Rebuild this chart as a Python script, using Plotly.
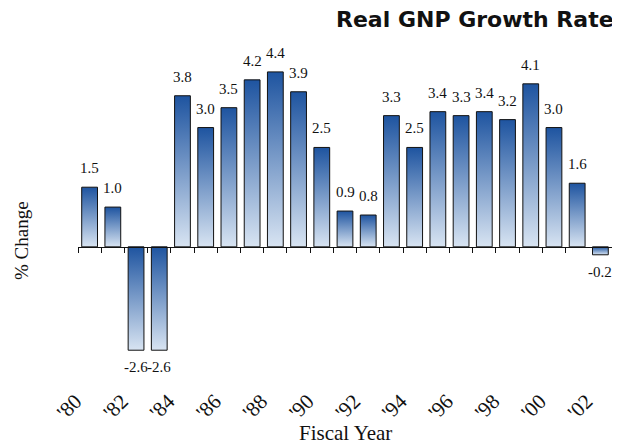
import plotly.graph_objects as go

# ---- data ----
years = list(range(1980, 2003))
growth = [1.5, 1.0, -2.6, -2.6, 3.8, 3.0, 3.5, 4.2, 4.4, 3.9, 2.5, 0.9, 0.8,
          3.3, 2.5, 3.4, 3.3, 3.4, 3.2, 4.1, 3.0, 1.6, -0.2]
tick_years = [1980, 1982, 1984, 1986, 1988, 1990, 1992, 1994, 1996, 1998, 2000, 2002]
tick_labels = ["'80", "'82", "'84", "'86", "'88", "'90", "'92", "'94", "'96", "'98", "'00", "'02"]

title_text = "Real GNP Growth Rate"
x_title = "Fiscal Year"
y_title = "% Change"

# ---- style ----
DARK = "rgb(30,84,160)"
LIGHT = "rgb(216,228,242)"
HALF = 0.34
YMIN, YMAX = -3.45, 4.8
XMIN, XMAX = years[0] - 0.5, years[-1] + 0.5
SERIF = "Liberation Serif, Times New Roman, serif"

fig = go.Figure()

for yr, v in zip(years, growth):
    fig.add_trace(go.Scatter(
        x=[yr - HALF, yr - HALF, yr + HALF, yr + HALF, yr - HALF],
        y=[0, v, v, 0, 0],
        mode="lines",
        fill="toself",
        fillgradient=dict(type="vertical", colorscale=[[0, LIGHT], [1, DARK]]),
        line=dict(color="#111111", width=1),
        hoverinfo="skip",
        showlegend=False,
        xaxis="x", yaxis="y",
    ))

# transparent bars for hover, on the label axis
fig.add_trace(go.Bar(
    x=years, y=growth, width=2 * HALF,
    marker=dict(color="rgba(0,0,0,0)", line=dict(width=0)),
    showlegend=False, xaxis="x2", yaxis="y",
    hovertemplate="%{x}: %{y:.1f}%<extra></extra>",
))

annotations = []
for yr, v in zip(years, growth):
    annotations.append(dict(
        x=yr, y=v, xref="x", yref="y",
        text=f"{v:.1f}", showarrow=False,
        yanchor="middle", xanchor="center",
        yshift=19 if v >= 0 else -17,
        font=dict(family=SERIF, size=15, color="#111111"),
    ))

annotations += [
    dict(text=f"<b>{title_text}</b>", xref="paper", yref="paper",
         x=1.0075, y=1.0, yshift=37, xanchor="right", yanchor="middle",
         showarrow=False,
         font=dict(family="DejaVu Sans, Verdana, sans-serif", size=22, color="#111111")),
    dict(text=x_title, xref="paper", yref="paper", x=0.5, y=0, yshift=-49,
         xanchor="center", yanchor="middle", showarrow=False,
         font=dict(family=SERIF, size=21, color="#111111")),
    dict(text=y_title, xref="paper", yref="paper", x=0, xshift=-56, y=0.436,
         xanchor="center", yanchor="middle", textangle=-90, showarrow=False,
         font=dict(family=SERIF, size=19, color="#111111")),
]

zero_pos = (0 - YMIN) / (YMAX - YMIN)

fig.update_layout(
    width=612, height=439,
    margin=dict(l=70, r=8, t=48, b=63),
    paper_bgcolor="white", plot_bgcolor="white",
    showlegend=False,
    bargap=0.32,
    annotations=annotations,
    xaxis=dict(
        range=[XMIN, XMAX],
        anchor="free", position=zero_pos,
        tickmode="array",
        tickvals=[y - 0.5 for y in years[:-1]],
        ticks="outside", ticklen=5, tickwidth=1, tickcolor="#111111",
        showticklabels=False,
        showline=True, linecolor="#111111", linewidth=1,
        showgrid=False, zeroline=False,
    ),
    xaxis2=dict(
        range=[XMIN, XMAX],
        overlaying="x", anchor="y", side="bottom",
        tickmode="array", tickvals=tick_years, ticktext=tick_labels,
        tickangle=-45, ticks="", ticklabelshift=-14,
        tickfont=dict(family=SERIF, size=21, color="#111111"),
        showline=False, showgrid=False, zeroline=False,
    ),
    yaxis=dict(
        range=[YMIN, YMAX],
        visible=False, showgrid=False, zeroline=False,
    ),
)

fig.write_html("out.html")
